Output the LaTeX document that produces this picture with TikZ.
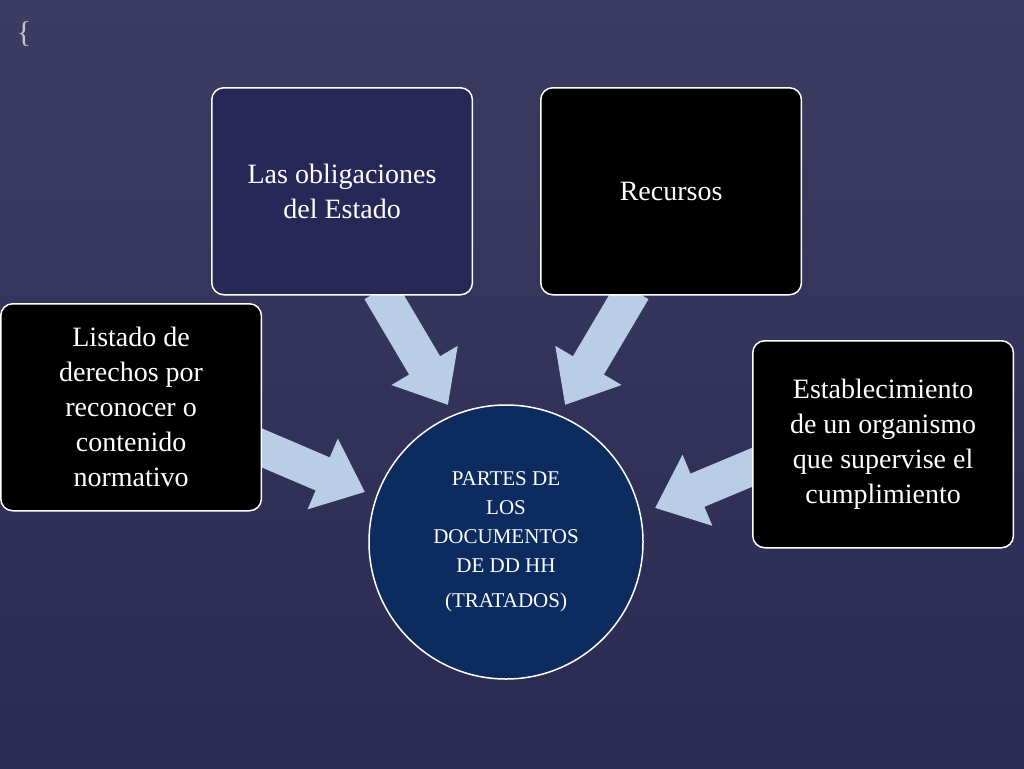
\documentclass[tikz,border=0pt]{standalone}
\usepackage{fontspec}
\setmainfont{Liberation Serif}
\usetikzlibrary{arrows.meta}
\definecolor{bgtop}{HTML}{3C3B62}
\definecolor{bgbot}{HTML}{2B2A52}
\definecolor{navybox}{HTML}{272858}
\definecolor{circ}{HTML}{0C2B5E}
\definecolor{arr}{HTML}{B9CDE5}
\tikzset{
 box/.style={draw=white, line width=1.5pt, rounded corners=12pt, minimum width=260pt, minimum height=207pt, text width=254pt, align=flush center, text=white, font=\fontsize{28}{35}\selectfont, anchor=north west},
 arrw/.style={draw=arr, line width=36pt, -{Triangle[width=74pt,length=46pt]}},
}
\begin{document}
\begin{tikzpicture}[x=1pt,y=-1pt]
\shade[top color=bgtop, bottom color=bgbot] (0,0) rectangle (1024,768);
\useasboundingbox (0,0) rectangle (1024,768);
\node[text=white!70!bgtop, font=\fontsize{30}{30}\selectfont] (brace) at (24,34) {\{};
\coordinate (p1) at (255,445); \coordinate (q1) at (365,492);
\coordinate (p2) at (380,290); \coordinate (q2) at (448,405);
\coordinate (p3) at (633,290); \coordinate (q3) at (565,405);
\coordinate (p4) at (760,464); \coordinate (q4) at (655,508);
\draw[arrw] (p1) -- (q1);
\draw[arrw] (p2) -- (q2);
\draw[arrw] (p3) -- (q3);
\draw[arrw] (p4) -- (q4);
\node[box, fill=black] (b1) at (0,303) {Listado de\\derechos por\\reconocer o\\contenido\\normativo};
\node[box, fill=navybox] (b2) at (211,87) {Las obligaciones\\del Estado};
\node[box, fill=black] (b3) at (540,87) {Recursos};
\node[box, fill=black] (b4) at (752,340) {Establecimiento\\de un organismo\\que supervise el\\cumplimiento};
\node[circle, draw=white, line width=1.5pt, fill=circ, minimum size=274pt, text width=200pt, text=white, align=flush center, font=\fontsize{21}{29}\selectfont] (c) at (506,542) {PARTES DE\\LOS\\DOCUMENTOS\\DE DD HH\\[6pt](TRATADOS)};
\end{tikzpicture}
\end{document}
